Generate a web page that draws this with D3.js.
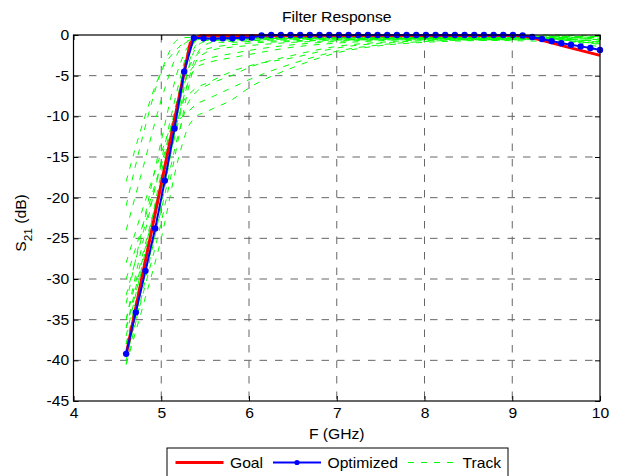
<!DOCTYPE html>
<html>
<head>
<meta charset="utf-8">
<script src="https://cdn.jsdelivr.net/npm/d3@7"></script>
<style>
  body { margin: 0; background: #fff; }
  text { font-family: "Liberation Sans", Arial, sans-serif; fill: #000; }
</style>
</head>
<body>
<div id="chart"></div>
<script>
// 軸の目盛り
var xTicks = [4, 5, 6, 7, 8, 9, 10];
var yTicks = [0, -5, -10, -15, -20, -25, -30, -35, -40, -45];

// Goal (周波数, dB)
var goalFreq = [4.6, 5.33, 5.38, 5.45, 9.05, 9.2, 9.6, 10];
var goalDb   = [-39.3, -1.0, -0.4, -0.1, -0.05, -0.25, -1.4, -2.5];

// Optimized : 4.6〜10 GHz の50点
var optFreq = [];
for (var i = 0; i < 50; i++) optFreq.push(4.6 + i * 5.4 / 49);
var optDb = [
  -39.2, -34.1, -29.0, -23.8, -17.9, -11.5, -4.5, -0.35, -0.4, -0.45,
  -0.4, -0.4, -0.35, -0.3, -0.05, 0, 0, 0, 0, 0,
  0, 0, 0, 0, 0, 0, 0, 0, 0, 0,
  0, 0, 0, 0, 0, 0, 0, 0, 0, 0,
  0, -0.05, -0.25, -0.5, -0.75, -1.0, -1.2, -1.4, -1.6, -1.85
];

// Track (最適化の途中経過)
var trackFreq = [4.6, 4.8, 5.0, 5.2, 5.3, 5.4, 5.5, 5.6, 5.8, 6.0, 6.5, 7.0, 7.5, 8.0, 9.0, 9.5, 10];
var tracks = [
  [-40.5, -31, -21, -9, -3, -0.6, -0.4, -0.4, -0.3, -0.3, -0.3, -0.3, -0.3, -0.3, -0.2, -0.4, -1.2],
  [-39, -29, -18.5, -7.5, -2.5, -0.8, -0.5, -0.5, -0.5, -0.4, -0.4, -0.4, -0.4, -0.4, -0.3, -0.5, -1.5],
  [-37, -27.5, -17, -7, -2.2, -0.7, -0.6, -0.6, -0.6, -0.5, -0.5, -0.5, -0.4, -0.4, -0.4, -0.2, -0.6],
  [-40, -30, -20, -10, -4.5, -1.5, -0.8, -0.7, -0.6, -0.6, -0.5, -0.5, -0.5, -0.5, -0.5, -0.3, -0.3],
  [-36, -27, -18, -9, -4, -1.2, -0.7, -0.6, -0.8, -0.7, -0.6, -0.5, -0.5, -0.5, -0.6, -0.5, -0.9],
  [-35, -25, -15.5, -6, -2, -0.5, -0.2, -0.2, -0.1, -0.1, -0.1, -0.1, -0.1, -0.1, -0.1, 0, -0.2],
  [-38, -28.5, -19, -10.5, -6, -2.5, -1.2, -0.9, -0.9, -0.8, -0.7, -0.6, -0.6, -0.6, -0.7, -0.8, -1.0],
  [-21, -12, -4.5, -0.5, -0.3, -0.3, -0.3, -0.3, -0.3, -0.3, -0.3, -0.3, -0.3, -0.3, -0.2, -0.1, -0.4],
  [-18, -10.5, -4.5, -1.5, -0.7, -0.5, -0.4, -0.4, -0.4, -0.4, -0.3, -0.3, -0.3, -0.3, -0.3, -0.2, -0.2],
  [-24, -16, -8, -2, -0.8, -0.5, -0.4, -0.4, -0.4, -0.4, -0.4, -0.3, -0.3, -0.3, -0.3, -0.4, -0.7],
  [-33, -23, -13, -4, -1.5, -0.6, -0.5, -0.5, -0.5, -0.5, -0.4, -0.4, -0.4, -0.4, -0.4, -0.6, -1.1],
  [-40.5, -33, -25, -15, -11.5, -10, -9.5, -9, -8, -6.5, -4, -2.2, -1.3, -0.9, -0.6, -0.5, -0.8],
  [-30, -23, -16, -10.5, -9.5, -8.5, -8, -7.5, -6.5, -5.5, -3.5, -2, -1.2, -0.8, -0.5, -0.4, -0.6],
  [-28, -21, -14.5, -9, -7.5, -6.5, -6, -5.5, -4.5, -3.8, -2.8, -1.6, -1, -0.7, -0.5, -0.3, -0.4],
  [-38, -30, -21.5, -12, -8.5, -7, -6.3, -5.8, -5, -4, -2.5, -1.4, -0.9, -0.6, -0.5, -0.6, -1.0],
  [-36, -28, -19, -10, -6, -4, -3.5, -3.2, -2.8, -2.4, -1.5, -1.0, -0.7, -0.5, -0.4, -0.3, -0.5],
  [-32, -24, -16, -8, -5, -3.5, -3, -2.7, -2.3, -1.9, -1.2, -0.8, -0.6, -0.4, -0.3, -0.2, -0.3],
  [-39.5, -31.5, -23, -12.5, -7, -3.2, -2.2, -1.8, -1.5, -1.3, -0.9, -0.7, -0.5, -0.4, -0.3, -0.2, -0.2],
  [-35, -26.5, -18, -9, -4.5, -2.5, -1.8, -1.5, -1.2, -1.0, -0.8, -0.6, -0.5, -0.4, -0.4, -0.5, -0.8]
];

var W = 623, H = 476;
var pL = 73.5, pR = 600, pT = 35, pB = 401;
var FS = "14.5px", SX = "scale(1.08,1)";

var svg = d3.select("#chart").append("svg")
  .attr("width", W).attr("height", H);

var x = d3.scaleLinear().domain([4, 10]).range([pL, pR]);
var y = d3.scaleLinear().domain([-45, 0]).range([pB, pT]);

// グリッド
var grid = svg.append("g");
grid.selectAll(".gx").data(xTicks.slice(1, -1)).enter().append("line")
  .attr("x1", function(d) { return x(d); }).attr("x2", function(d) { return x(d); })
  .attr("y1", pT).attr("y2", pB)
  .attr("stroke", "#666").attr("stroke-width", 1).attr("stroke-dasharray", "7.5,8");
grid.selectAll(".gy").data(yTicks.slice(1, -1)).enter().append("line")
  .attr("y1", function(d) { return y(d); }).attr("y2", function(d) { return y(d); })
  .attr("x1", pL).attr("x2", pR)
  .attr("stroke", "#666").attr("stroke-width", 1).attr("stroke-dasharray", "7.5,8");

// プロット領域のクリップ
svg.append("clipPath").attr("id", "clip").append("rect")
  .attr("x", pL).attr("y", pT - 4).attr("width", pR - pL + 4).attr("height", pB - pT + 4);

var plot = svg.append("g").attr("clip-path", "url(#clip)");

var trackLine = d3.line()
  .x(function(d, i) { return x(trackFreq[i]); })
  .y(function(d) { return y(d); })
  .curve(d3.curveMonotoneX);

plot.selectAll(".track").data(tracks).enter().append("path")
  .attr("class", "track")
  .attr("d", trackLine)
  .attr("fill", "none")
  .attr("stroke", "#00ff00")
  .attr("stroke-width", 1)
  .attr("stroke-dasharray", "6,7");

var goalLine = d3.line()
  .x(function(d, i) { return x(goalFreq[i]); })
  .y(function(d) { return y(d); });

plot.append("path")
  .attr("d", goalLine(goalDb))
  .attr("fill", "none")
  .attr("stroke", "#ff0000")
  .attr("stroke-width", 3);

var optLine = d3.line()
  .x(function(d, i) { return x(optFreq[i]); })
  .y(function(d) { return y(d); });

plot.append("path")
  .attr("d", optLine(optDb))
  .attr("fill", "none")
  .attr("stroke", "#0000ff")
  .attr("stroke-width", 2);

svg.append("g").selectAll("circle").data(optDb).enter().append("circle")
  .attr("cx", function(d, i) { return x(optFreq[i]); })
  .attr("cy", function(d) { return y(d); })
  .attr("r", 3.2)
  .attr("fill", "#0000ff");

// 軸 (目盛りは内向き)
var fmt = function(d) { return String(d); };
var axB = svg.append("g").attr("transform", "translate(0," + pB + ")")
  .call(d3.axisBottom(x).tickValues(xTicks).tickSizeInner(-5).tickSizeOuter(0).tickPadding(7).tickFormat(fmt));
var axT = svg.append("g").attr("transform", "translate(0," + pT + ")")
  .call(d3.axisTop(x).tickValues(xTicks).tickSizeInner(-5).tickSizeOuter(0).tickFormat(""));
var axL = svg.append("g").attr("transform", "translate(" + pL + ",0)")
  .call(d3.axisLeft(y).tickValues(yTicks).tickSizeInner(-5).tickSizeOuter(0).tickPadding(4).tickFormat(fmt));
var axR = svg.append("g").attr("transform", "translate(" + pR + ",0)")
  .call(d3.axisRight(y).tickValues(yTicks).tickSizeInner(-5).tickSizeOuter(0).tickFormat(""));

[axB, axT, axL, axR].forEach(function(a) {
  a.select(".domain").remove();
  a.selectAll("line").attr("stroke", "#000");
  a.selectAll("text")
    .style("font-size", FS)
    .style("font-family", "Liberation Sans, Arial, sans-serif")
    .attr("transform", SX);
});

svg.append("rect")
  .attr("x", pL).attr("y", pT)
  .attr("width", pR - pL).attr("height", pB - pT)
  .attr("fill", "none").attr("stroke", "#000").attr("stroke-width", 1.2);

// タイトル・ラベル
svg.append("text")
  .attr("transform", "translate(" + ((pL + pR) / 2) + ",22) " + SX)
  .attr("text-anchor", "middle").style("font-size", FS).text("Filter Response");

svg.append("text")
  .attr("transform", "translate(" + ((pL + pR) / 2) + ",439) " + SX)
  .attr("text-anchor", "middle").style("font-size", FS).text("F (GHz)");

var yl = svg.append("text")
  .attr("transform", "translate(26,223) rotate(-90) " + SX)
  .attr("text-anchor", "middle").style("font-size", FS);
yl.append("tspan").text("S");
yl.append("tspan").attr("dy", 6).style("font-size", "11px").text("21");
yl.append("tspan").attr("dy", -6).text(" (dB)");

// 凡例
var lg = svg.append("g");
lg.append("rect").attr("x", 167).attr("y", 448).attr("width", 341).attr("height", 32)
  .attr("fill", "#fff").attr("stroke", "#000").attr("stroke-width", 1);

var legendItems = [
  { label: "Goal", x1: 175.5, tx: 230, color: "#ff0000", w: 3, dash: null, marker: false },
  { label: "Optimized", x1: 273, tx: 327.5, color: "#0000ff", w: 2, dash: null, marker: true },
  { label: "Track", x1: 408, tx: 462.5, color: "#00ff00", w: 1, dash: "6,7", marker: false }
];
var ly = 462.5;
legendItems.forEach(function(it) {
  lg.append("line").attr("x1", it.x1).attr("x2", it.x1 + 48)
    .attr("y1", ly).attr("y2", ly)
    .attr("stroke", it.color).attr("stroke-width", it.w)
    .attr("stroke-dasharray", it.dash);
  if (it.marker) {
    lg.append("circle").attr("cx", it.x1 + 24).attr("cy", ly).attr("r", 2.6).attr("fill", it.color);
  }
  lg.append("text")
    .attr("transform", "translate(" + it.tx + "," + (ly + 5.3) + ") " + SX)
    .style("font-size", FS).text(it.label);
});
</script>
</body>
</html>
